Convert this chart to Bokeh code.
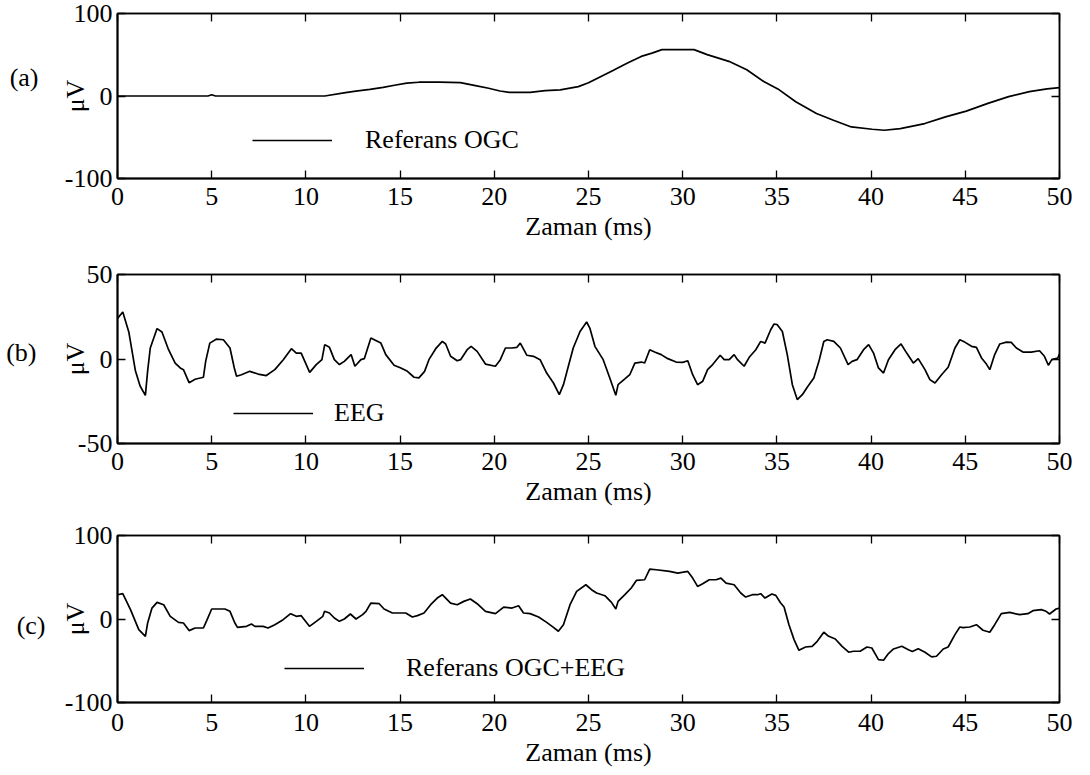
from bokeh.plotting import figure
from bokeh.layouts import column
from bokeh.models import (LinearAxis, FixedTicker, CustomJSTickFormatter,
                          Legend, LegendItem, Range1d)
from bokeh.embed import file_html
from bokeh.resources import INLINE

# ---------------- data ----------------
x_ticks = [0, 5, 10, 15, 20, 25, 30, 35, 40, 45, 50]

ogc_t = [0, 4.8, 5.0, 5.2, 11.0, 12.1, 12.65, 13.4, 14.1, 14.7,
         15.35, 16.0, 17.1, 18.2, 19.0, 19.7, 20.3, 20.8, 21.9, 22.7,
         23.5, 24.46, 25.0, 26.3, 27.07, 27.8, 28.37, 28.9, 30.6, 31.3,
         32.45, 33.4, 34.3, 35.05, 36.0, 37.1, 38.0, 38.95, 40.06, 40.7,
         41.55, 42.85, 43.95, 45.05, 46.2, 47.3, 48.4, 49.34, 50.0]
ogc_v = [0, 0, 1.5, 0, 0, 4, 6, 8, 10.5, 13,
         15.5, 16.7, 16.7, 16.3, 12.6, 9.4, 6.1, 4.5, 4.5, 6.5,
         7.5, 11.4, 16, 31, 40, 48, 52, 56.2, 56.2, 50.1,
         42, 31.8, 17.5, 8.6, -6.9, -21.2, -29.3, -37.5, -40.3, -41.5,
         -39.5, -33.4, -25.3, -18.3, -9, -0.8, 5.3, 8.6, 10.2]

eeg_t = [0, 0.28, 0.6, 0.95, 1.2, 1.48, 1.6, 1.74, 2.1, 2.36,
         2.71, 3.06, 3.33, 3.5, 3.8, 4.12, 4.56, 4.68, 4.9, 5.26,
         5.62, 5.97, 6.2, 6.32, 6.58, 7.02, 7.46, 7.9, 8.35, 8.8,
         9.23, 9.49, 9.75, 10.2, 10.55, 10.85, 11.0, 11.25, 11.51, 11.78,
         12.04, 12.4, 12.6, 12.92, 13.1, 13.45, 13.63, 13.98, 14.24, 14.68,
         15.04, 15.39, 15.74, 16.0, 16.3, 16.53, 16.89, 17.24, 17.42, 17.68,
         18.03, 18.21, 18.56, 18.77, 19.09, 19.53, 20.06, 20.32, 20.59, 20.94,
         21.2, 21.38, 21.73, 22.08, 22.43, 22.78, 23.14, 23.45, 23.67, 23.93,
         24.19, 24.55, 24.9, 25.07, 25.34, 25.78, 26.13, 26.45, 26.57, 26.93,
         27.19, 27.46, 27.81, 27.98, 28.25, 28.51, 28.86, 29.21, 29.65, 30.0,
         30.27, 30.53, 30.79, 31.06, 31.32, 31.59, 31.99, 32.2, 32.47, 32.73,
         32.91, 33.26, 33.53, 33.88, 34.14, 34.37, 34.67, 34.85, 35.02, 35.29,
         35.55, 35.82, 36.08, 36.35, 36.61, 36.96, 37.23, 37.49, 37.67, 38.02,
         38.37, 38.78, 38.99, 39.25, 39.6, 39.87, 40.13, 40.39, 40.66, 40.92,
         41.27, 41.59, 41.89, 42.24, 42.5, 42.86, 43.12, 43.39, 43.74, 44.09,
         44.45, 44.71, 44.97, 45.33, 45.59, 45.86, 46.12, 46.3, 46.56, 46.83,
         47.18, 47.44, 47.71, 48.06, 48.5, 48.94, 49.2, 49.41, 49.59, 49.91,
         50.0]
eeg_v = [24, 27.8, 16, -7, -16, -21.5, -7, 6.5, 18, 16,
         5.5, -2.4, -5.3, -6.3, -14, -12, -10.8, -1.4, 9.4, 11.8,
         11.4, 6.5, -5.3, -10.2, -9.3, -7.3, -8.9, -9.8, -6.3, -0.4,
         6.1, 3.5, 3.5, -7.9, -3.3, -0.4, 8.5, 6.9, -0.4, -3.3,
         -1.4, 2.6, -4.3, -0.4, 0.2, 12.4, 11.4, 9.4, 2.6, -3.7,
         -5.3, -7.3, -10.8, -11.2, -7.3, -0.4, 6.1, 10.4, 8.9, 1.6,
         -1.0, -0.4, 5.5, 7.5, 4.5, -3.0, -4.3, -0.4, 6.5, 6.5,
         6.9, 9.4, 2.2, 1.6, -0.4, -8.3, -14.2, -21.1, -15.2, -4.3,
         6.5, 16.3, 21.9, 18.3, 7.5, -0.4, -11.2, -21.5, -15.2, -11.8,
         -9.3, -2.4, -1.8, -2.4, 5.5, 4.1, 2.6, 0.2, -1.8, -2.0,
         -1.0, -9.3, -15.2, -13.2, -6.3, -3.3, 2.2, -0.4, -0.4, 2.6,
         -0.4, -4.3, 1.0, 5.5, 10.4, 9.4, 17.3, 20.7, 20.3, 16.3,
         2.6, -15.2, -24.0, -21.1, -16.7, -11.2, -1.4, 10.4, 11.4, 10.4,
         6.5, -3.3, -1.4, -0.4, 5.5, 8.5, 3.5, -5.3, -8.3, -0.4,
         5.5, 8.9, 3.5, -2.4, 0.2, -6.3, -12.2, -14.2, -9.3, -4.9,
         6.5, 11.4, 10.0, 7.5, 6.9, 0.6, -3.0, -6.3, 2.6, 8.9,
         10.0, 9.8, 6.5, 4.1, 4.1, 4.9, 1.6, -3.7, -0.4, 0.6,
         3.0]

mix_t = [0, 0.28, 0.69, 1.13, 1.48, 1.6, 1.83, 2.1, 2.45, 2.8,
         3.24, 3.5, 3.8, 4.12, 4.56, 4.74, 5.0, 5.7, 5.97, 6.23,
         6.37, 6.85, 7.11, 7.29, 7.73, 7.99, 8.35, 8.79, 9.19, 9.49,
         9.75, 10.19, 10.55, 10.9, 10.99, 11.25, 11.51, 11.78, 12.04, 12.36,
         12.66, 13.01, 13.19, 13.45, 13.89, 14.15, 14.59, 14.95, 15.3, 15.65,
         15.92, 16.27, 16.62, 16.97, 17.24, 17.42, 17.68, 18.03, 18.38, 18.73,
         19.09, 19.53, 20.06, 20.5, 20.94, 21.29, 21.55, 21.9, 22.35, 22.78,
         23.14, 23.4, 23.67, 24.02, 24.37, 24.86, 25.16, 25.43, 25.87, 26.22,
         26.45, 26.57, 26.93, 27.27, 27.54, 27.98, 28.25, 28.6, 29.3, 29.74,
         30.27, 30.53, 30.79, 31.06, 31.41, 31.77, 32.03, 32.3, 32.73, 33.08,
         33.34, 33.7, 33.97, 34.14, 34.37, 34.73, 34.94, 35.2, 35.38, 35.64,
         35.91, 36.17, 36.52, 36.87, 37.14, 37.49, 37.75, 38.1, 38.46, 38.81,
         39.07, 39.42, 39.78, 40.04, 40.39, 40.66, 40.92, 41.19, 41.63, 41.98,
         42.19, 42.5, 42.86, 43.21, 43.47, 43.83, 44.09, 44.45, 44.71, 44.88,
         45.24, 45.59, 45.94, 46.3, 46.56, 46.91, 47.36, 47.88, 48.32, 48.59,
         49.03, 49.29, 49.47, 49.82, 50.0]
mix_v = [29, 30.3, 11.2, -12.7, -20.7, -4.8, 13.1, 19.9, 17.1, 3.2,
         -4.0, -4.8, -13.9, -10.8, -10.8, -1.6, 12.0, 12.0, 9.2, -4.8,
         -10.0, -8.8, -6.0, -8.8, -8.8, -10.8, -6.8, -0.8, 6.4, 3.2,
         4.0, -8.8, -2.8, 3.2, 9.2, 7.2, 1.2, -2.8, 0.0, 6.0,
         0.0, 5.2, 9.2, 19.1, 18.3, 12.0, 7.2, 7.2, 7.2, 2.4,
         4.0, 7.2, 17.1, 25.1, 29.1, 25.1, 19.1, 17.1, 21.1, 23.9,
         18.3, 9.2, 6.4, 14.3, 13.1, 15.9, 7.2, 6.4, 2.4, -4.0,
         -10.0, -14.7, -6.8, 17.1, 33.1, 41.0, 35.1, 31.1, 27.9, 19.9,
         12.0, 21.1, 29.1, 37.1, 46.2, 47.0, 59.8, 59.0, 57.0, 55.0,
         57.0, 49.0, 39.0, 42.2, 47.0, 47.0, 49.0, 43.0, 41.0, 31.1,
         26.3, 29.1, 29.1, 30.3, 25.1, 29.9, 28.3, 19.1, 14.3, -6.8,
         -24.7, -37.5, -33.5, -32.7, -26.7, -15.9, -20.7, -23.9, -32.7, -39.8,
         -38.6, -38.6, -33.5, -34.7, -48.6, -49.4, -41.4, -35.9, -32.7, -36.7,
         -39.0, -35.5, -39.8, -45.4, -44.6, -35.9, -33.5, -18.7, -9.6, -10.4,
         -9.6, -6.8, -13.5, -15.9, -6.8, 6.4, 8.0, 5.2, 6.4, 10.0,
         11.2, 9.2, 6.0, 12.0, 13.1]

x_label = "Zaman (ms)"
y_label = "μV"

# ---------------- styling ----------------
FONT = "Liberation Serif"
FS = "26px"
LEFT = 117
RIGHT = 31

PLAIN = CustomJSTickFormatter(code="return String(tick)")


def blank_axis(p, ticks, side):
    ax = LinearAxis(ticker=FixedTicker(ticks=ticks),
                    formatter=CustomJSTickFormatter(code="return ''"),
                    major_label_text_font_size="0px", major_label_standoff=0,
                    major_tick_in=8, major_tick_out=0,
                    minor_tick_in=0, minor_tick_out=0,
                    axis_line_color="black", axis_line_width=1.5,
                    major_tick_line_color="black", major_tick_line_width=1.3)
    p.add_layout(ax, side)


def panel(t, v, ymax, tag, tag_y, tag_standoff, ylab_standoff, leg_text,
          height, btop, bbot, leg_x, leg_y, leg_standoff, xlab_standoff):
    p = figure(width=1090, height=height, title=None,
               x_range=Range1d(0, 50), y_range=Range1d(-ymax, ymax),
               output_backend="svg", toolbar_location=None,
               min_border_left=LEFT, min_border_right=RIGHT,
               min_border_top=btop, min_border_bottom=bbot,
               x_axis_label=x_label, y_axis_label=y_label)
    p.xgrid.visible = False
    p.ygrid.visible = False
    p.outline_line_color = "black"
    p.outline_line_width = 1.5
    p.background_fill_color = "white"
    p.border_fill_color = "white"

    yt = [-ymax, 0, ymax]
    for ax in p.xaxis:
        ax.ticker = FixedTicker(ticks=x_ticks)
        ax.major_label_standoff = xlab_standoff
    for ax in p.yaxis:
        ax.ticker = FixedTicker(ticks=yt)
        ax.major_label_standoff = 5
    for ax in list(p.xaxis) + list(p.yaxis):
        ax.formatter = PLAIN
        ax.major_tick_in = 8
        ax.major_tick_out = 0
        ax.minor_tick_in = 0
        ax.minor_tick_out = 0
        ax.axis_line_color = "black"
        ax.axis_line_width = 2
        ax.major_tick_line_color = "black"
        ax.major_tick_line_width = 1.3
        ax.major_label_text_font = FONT
        ax.major_label_text_font_size = FS
        ax.major_label_text_color = "black"
        ax.axis_label_text_font = FONT
        ax.axis_label_text_font_size = FS
        ax.axis_label_text_font_style = "normal"
        ax.axis_label_text_color = "black"
    p.xaxis.axis_label_standoff = 4
    p.yaxis.axis_label_standoff = ylab_standoff

    # panel tag "(a)" etc. drawn as the label of an outer, tickless axis
    tag_ax = LinearAxis(ticker=FixedTicker(ticks=[tag_y]),
                        formatter=CustomJSTickFormatter(code="return '%s'" % tag),
                        major_tick_in=0, major_tick_out=0,
                        minor_tick_in=0, minor_tick_out=0,
                        axis_line_color=None,
                        major_label_standoff=tag_standoff,
                        major_label_text_font=FONT,
                        major_label_text_font_size=FS,
                        major_label_text_color="black")
    p.add_layout(tag_ax, "left")

    blank_axis(p, x_ticks, "above")
    blank_axis(p, yt, "right")

    r = p.line(t, v, line_color="black", line_width=1.7)

    leg = Legend(items=[LegendItem(label=leg_text, renderers=[r])],
                 location=(leg_x, leg_y), margin=0, padding=0, spacing=0,
                 border_line_color=None, background_fill_alpha=0,
                 glyph_width=80, glyph_height=30, label_height=30,
                 label_standoff=leg_standoff,
                 label_text_font=FONT, label_text_font_size=FS,
                 label_text_color="black")
    p.add_layout(leg)
    return p


pa = panel(ogc_t, ogc_v, 100, "(a)", 22, 19, -28, "Referans OGC",
           252, 13, 74, 135, 23, 33, 9)
pb = panel(eeg_t, eeg_v, 50, "(b)", 4, 21, -15, "EEG",
           263, 22, 72, 116, 15, 21, 9)
pc = panel(mix_t, mix_v, 100, "(c)", -8, 12, -28, "Referans OGC+EEG",
           260, 20, 73, 167, 19, 42, 11)

layout = column(pa, pb, pc, spacing=0)

with open("out.html", "w") as f:
    f.write(file_html(layout, INLINE))
